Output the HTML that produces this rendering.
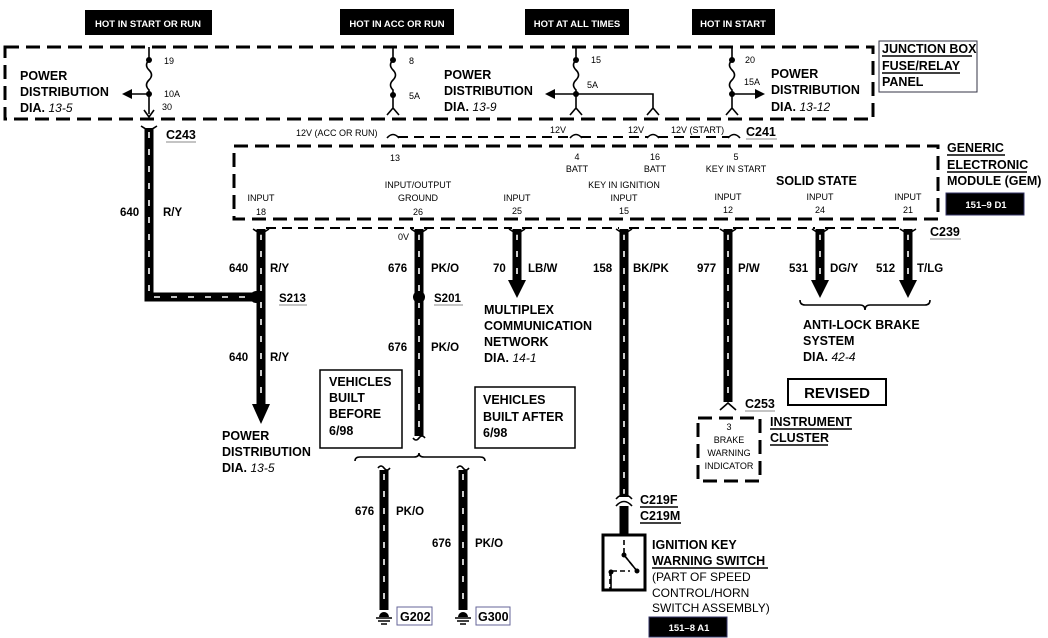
<!DOCTYPE html>
<html><head><meta charset="utf-8"><style>
html,body{margin:0;padding:0;background:#fff;}
svg{display:block;font-family:"Liberation Sans",Arial,sans-serif;}
.b{font-weight:bold;font-size:12.5px;}
.s{font-size:9px;}
.m{font-size:11.5px;font-weight:bold;}
.i{font-style:italic;font-weight:normal;font-size:12px;}
.w{stroke:#000;stroke-width:9;fill:none;}
.wd{stroke:#fff;stroke-width:1.6;stroke-dasharray:6 11;fill:none;}
.dash{stroke:#000;stroke-width:3;stroke-dasharray:14 7;fill:none;}
.thin{stroke:#000;stroke-width:2;stroke-dasharray:10 6;fill:none;}
.ln{stroke:#000;stroke-width:1.6;fill:none;}
</style></head><body>
<svg width="1048" height="638" viewBox="0 0 1048 638" xmlns="http://www.w3.org/2000/svg">
<!-- top labels -->
<rect x="85" y="10" width="127" height="25" fill="#000"/>
<text x="148" y="27" fill="#fff" font-size="9.5" font-weight="bold" text-anchor="middle">HOT IN START OR RUN</text>
<rect x="340" y="9" width="114" height="26" fill="#000"/>
<text x="397" y="27" fill="#fff" font-size="9.5" font-weight="bold" text-anchor="middle">HOT IN ACC OR RUN</text>
<rect x="525" y="9" width="104" height="26" fill="#000"/>
<text x="577" y="27" fill="#fff" font-size="9.5" font-weight="bold" text-anchor="middle">HOT AT ALL TIMES</text>
<rect x="692" y="9" width="83" height="26" fill="#000"/>
<text x="733" y="27" fill="#fff" font-size="9.5" font-weight="bold" text-anchor="middle">HOT IN START</text>

<!-- junction box -->
<rect x="5" y="47" width="868" height="72" class="dash"/>
<rect x="879" y="41" width="98" height="51" fill="none" stroke="#334" stroke-width="1"/>
<text class="b" x="882" y="53">JUNCTION BOX</text>
<text class="b" x="882" y="70">FUSE/RELAY</text>
<text class="b" x="882" y="86">PANEL</text>
<line x1="882" y1="56" x2="972" y2="56" class="ln" stroke-width="0.8"/>
<line x1="882" y1="73" x2="960" y2="73" class="ln" stroke-width="0.8"/>

<!-- fuses -->
<g class="ln">
<path d="M149 47 V60 q-5 5 0 10 q5 5 0 10 q-5 5 0 10 V114 M144 110 l5 7 l5 -7"/>
<path d="M149 94 H124"/>
<path d="M393 47 V60 q-5 5 0 10 q5 5 0 10 q-5 5 0 10 V108 M387 115 l6 -7 l6 7"/>
<path d="M576 47 V60 q-5 5 0 10 q5 5 0 10 q-5 5 0 10 V108 M570 115 l6 -7 l6 7"/>
<path d="M576 94 H548 M576 94 H653 V108 M647 115 l6 -7 l6 7"/>
<path d="M732 47 V60 q-5 5 0 10 q5 5 0 10 q-5 5 0 10 V108 M726 115 l6 -7 l6 7"/>
<path d="M732 94 H756"/>
</g>
<polygon points="122,94 132,89 132,99"/>
<polygon points="545,94 555,89 555,99"/>
<polygon points="765,94 755,89 755,99"/>
<g fill="#000"><circle cx="149" cy="60" r="3"/><circle cx="149" cy="94" r="3"/><circle cx="393" cy="60" r="3"/><circle cx="393" cy="95" r="3"/><circle cx="576" cy="60" r="3"/><circle cx="576" cy="94" r="3"/><circle cx="732" cy="60" r="3"/><circle cx="732" cy="94" r="3"/></g>
<g class="s"><text x="164" y="64">19</text><text x="164" y="97">10A</text><text x="162" y="110">30</text>
<text x="409" y="64">8</text><text x="409" y="99">5A</text>
<text x="591" y="63">15</text><text x="587" y="88">5A</text>
<text x="745" y="63">20</text><text x="744" y="85">15A</text></g>
<text class="b" x="20" y="80">POWER</text><text class="b" x="20" y="96">DISTRIBUTION</text><text class="b" x="20" y="112">DIA. <tspan class="i">13-5</tspan></text>
<text class="b" x="444" y="79">POWER</text><text class="b" x="444" y="95">DISTRIBUTION</text><text class="b" x="444" y="111">DIA. <tspan class="i">13-9</tspan></text>
<text class="b" x="771" y="78">POWER</text><text class="b" x="771" y="94">DISTRIBUTION</text><text class="b" x="771" y="111">DIA. <tspan class="i">13-12</tspan></text>

<!-- connector line C241 -->
<path class="thin" d="M398 137 H571 M581 137 H648 M658 137 H729"/>
<g class="ln" stroke-width="2"><path d="M387 138 q6 -7 12 0 M570 138 q6 -7 12 0 M647 138 q6 -7 12 0 M728 138 q6 -7 12 0"/></g>
<g class="s"><text x="296" y="136">12V (ACC OR RUN)</text><text x="550" y="133">12V</text><text x="628" y="133">12V</text><text x="671" y="133">12V (START)</text></g>
<text class="b" x="746" y="136">C241</text><line x1="746" y1="139" x2="777" y2="139" stroke="#888" stroke-width="1"/>

<!-- GEM -->
<rect x="234" y="146" width="704" height="73" class="dash"/>
<g class="s" text-anchor="middle">
<text x="395" y="161">13</text><text x="577" y="160">4</text><text x="577" y="172">BATT</text><text x="655" y="160">16</text><text x="655" y="172">BATT</text>
<text x="736" y="160">5</text><text x="736" y="172">KEY IN START</text>
<text x="624" y="188">KEY IN IGNITION</text><text x="624" y="201">INPUT</text><text x="624" y="214">15</text>
<text x="261" y="201">INPUT</text><text x="261" y="215">18</text>
<text x="418" y="188">INPUT/OUTPUT</text><text x="418" y="201">GROUND</text><text x="418" y="215">26</text>
<text x="517" y="201">INPUT</text><text x="517" y="214">25</text>
<text x="728" y="200">INPUT</text><text x="728" y="213">12</text>
<text x="820" y="200">INPUT</text><text x="820" y="213">24</text>
<text x="908" y="200">INPUT</text><text x="908" y="213">21</text></g>
<text class="b" x="776" y="185">SOLID STATE</text>
<text class="b" x="947" y="152">GENERIC</text><text class="b" x="947" y="169">ELECTRONIC</text><text class="b" x="947" y="185">MODULE (GEM)</text>
<line x1="947" y1="155" x2="1005" y2="155" class="ln" stroke-width="0.8"/><line x1="947" y1="172" x2="1027" y2="172" class="ln" stroke-width="0.8"/>
<rect x="946" y="193" width="78" height="22" fill="#000" stroke="#336" stroke-width="1"/>
<text x="986" y="208" fill="#fff" font-size="9.5" font-weight="bold" text-anchor="middle">151–9 D1</text>

<path class="thin" d="M266 228 H414 M424 228 H512 M522 228 H619 M629 228 H723 M733 228 H815 M825 228 H903"/>
<text class="b" x="930" y="236">C239</text><line x1="930" y1="239" x2="961" y2="239" stroke="#888" stroke-width="1"/>
<text class="b" x="166" y="139">C243</text><line x1="166" y1="142" x2="196" y2="142" stroke="#888" stroke-width="1"/>

<!-- wires -->
<g>
<path class="w" d="M149 128 V297 H256"/><path class="wd" d="M149 132 V297 H256"/>
<path class="w" d="M261 229 V408"/><path class="wd" d="M261 234 V405"/>
<path class="w" d="M419 229 V436"/><path class="wd" d="M419 234 V432"/>
<path class="w" d="M517 229 V285"/><path class="wd" d="M517 234 V282"/>
<path class="w" d="M624 229 V497 M624 506 V535"/><path class="wd" d="M624 234 V494"/>
<path class="w" d="M728 229 V402"/><path class="wd" d="M728 234 V398"/>
<path class="w" d="M820 229 V285"/><path class="wd" d="M820 234 V282"/>
<path class="w" d="M908 229 V285"/><path class="wd" d="M908 234 V282"/>
<path class="w" d="M384 470 V610"/><path class="wd" d="M384 474 V606"/>
<path class="w" d="M463 470 V610"/><path class="wd" d="M463 474 V606"/>
</g>
<!-- fork ends -->
<g class="ln" stroke-width="2.5">
<path d="M141 126 l8 5 l8 -5 M253 229 l8 5 l8 -5 M411 229 l8 5 l8 -5 M509 229 l8 5 l8 -5 M616 229 l8 5 l8 -5 M720 229 l8 5 l8 -5 M812 229 l8 5 l8 -5 M900 229 l8 5 l8 -5"/>
<path d="M720 410 l8 -7 l8 7 M616 506 q8 -9 16 0 M616 499 q8 -9 16 0"/>
<path d="M413 438 q3 4 6 0 q3 -4 6 0 M378 468 q3 -4 6 0 q3 4 6 0 M457 468 q3 -4 6 0 q3 4 6 0"/>
</g>
<!-- arrowheads -->
<polygon points="252,404 270,404 261,424"/>
<polygon points="508,280 526,280 517,298"/>
<polygon points="811,280 829,280 820,298"/>
<polygon points="899,280 917,280 908,298"/>
<circle cx="256" cy="297" r="6"/><circle cx="419" cy="297" r="6"/>

<!-- labels -->
<g class="m">
<text x="120" y="216">640</text><text x="163" y="216">R/Y</text>
<text x="229" y="272">640</text><text x="270" y="272">R/Y</text>
<text x="229" y="361">640</text><text x="270" y="361">R/Y</text>
<text x="388" y="272">676</text><text x="431" y="272">PK/O</text>
<text x="388" y="351">676</text><text x="431" y="351">PK/O</text>
<text x="493" y="272">70</text><text x="528" y="272">LB/W</text>
<text x="593" y="272">158</text><text x="633" y="272">BK/PK</text>
<text x="697" y="272">977</text><text x="738" y="272">P/W</text>
<text x="789" y="272">531</text><text x="830" y="272">DG/Y</text>
<text x="876" y="272">512</text><text x="917" y="272">T/LG</text>
<text x="355" y="515">676</text><text x="396" y="515">PK/O</text>
<text x="432" y="547">676</text><text x="475" y="547">PK/O</text>
<text x="279" y="302">S213</text><text x="434" y="302">S201</text>
</g>
<line x1="279" y1="305" x2="307" y2="305" stroke="#888"/><line x1="434" y1="305" x2="463" y2="305" stroke="#888"/>
<text class="s" x="398" y="240">0V</text>

<text class="b" x="222" y="440">POWER</text><text class="b" x="222" y="456">DISTRIBUTION</text><text class="b" x="222" y="472">DIA. <tspan class="i">13-5</tspan></text>
<text class="b" x="484" y="314">MULTIPLEX</text><text class="b" x="484" y="330">COMMUNICATION</text><text class="b" x="484" y="346">NETWORK</text><text class="b" x="484" y="362">DIA. <tspan class="i">14-1</tspan></text>
<path class="ln" d="M800 300 q0 5 5 5 H860 q5 0 5 5 q0 -5 5 -5 H925 q5 0 5 -5"/>
<text class="b" x="803" y="329">ANTI-LOCK BRAKE</text><text class="b" x="803" y="345">SYSTEM</text><text class="b" x="803" y="361">DIA. <tspan class="i">42-4</tspan></text>

<rect x="320" y="370" width="82" height="78" fill="none" stroke="#000" stroke-width="1.5"/>
<text class="b" x="329" y="386">VEHICLES</text><text class="b" x="329" y="402">BUILT</text><text class="b" x="329" y="418">BEFORE</text><text class="b" x="329" y="435">6/98</text>
<rect x="475" y="387" width="100" height="61" fill="none" stroke="#000" stroke-width="1.5"/>
<text class="b" x="483" y="404">VEHICLES</text><text class="b" x="483" y="421">BUILT AFTER</text><text class="b" x="483" y="437">6/98</text>
<path class="ln" d="M355 461 q0 -4 5 -4 H414 q5 0 5 -4 q0 4 5 4 H480 q5 0 5 4"/>

<!-- grounds -->
<g class="ln"><path d="M376 618 H392 M378 621 H390 M381 624 H387 M455 618 H471 M457 621 H469 M460 624 H466"/></g>
<path d="M379 617 a5 5 0 0 1 10 0 z M458 617 a5 5 0 0 1 10 0 z"/>
<rect x="397" y="607" width="35" height="18" fill="none" stroke="#669" stroke-width="1"/><text class="b" x="400" y="621">G202</text>
<rect x="476" y="607" width="34" height="18" fill="none" stroke="#669" stroke-width="1"/><text class="b" x="478" y="621">G300</text>

<!-- C253 / cluster -->
<text class="b" x="745" y="408">C253</text><line x1="745" y1="411" x2="775" y2="411" stroke="#888"/>
<rect x="698" y="418" width="62" height="63" class="dash" stroke-dasharray="10 6"/>
<g class="s" text-anchor="middle" font-size="8.5"><text x="729" y="430">3</text><text x="729" y="443">BRAKE</text><text x="729" y="456">WARNING</text><text x="729" y="469">INDICATOR</text></g>
<text class="b" x="770" y="426">INSTRUMENT</text><text class="b" x="770" y="442">CLUSTER</text>
<line x1="770" y1="429" x2="852" y2="429" class="ln" stroke-width="0.8"/><line x1="770" y1="445" x2="828" y2="445" class="ln" stroke-width="0.8"/>
<rect x="788" y="379" width="98" height="26" fill="none" stroke="#000" stroke-width="2"/>
<text x="837" y="398" text-anchor="middle" font-size="15" font-weight="bold">REVISED</text>

<!-- switch -->
<text class="b" x="640" y="504">C219F</text><text class="b" x="640" y="520">C219M</text>
<line x1="640" y1="507" x2="678" y2="507" class="ln" stroke-width="0.8"/><line x1="640" y1="523" x2="681" y2="523" class="ln" stroke-width="0.8"/>
<rect x="603" y="535" width="42" height="55" fill="none" stroke="#000" stroke-width="3"/>
<g class="ln" stroke-width="2"><path d="M624 540 V555 L637 571 M612 571 H630 M610 571 V590" stroke-dasharray="5 3"/><path d="M624 555 L637 571"/><path d="M611 572 V591"/></g>
<circle cx="624" cy="555" r="2.5"/><circle cx="637" cy="571" r="2.5"/><circle cx="611" cy="572" r="2.5"/>
<text class="b" x="652" y="549">IGNITION KEY</text><text class="b" x="652" y="565">WARNING SWITCH</text>
<line x1="652" y1="568" x2="768" y2="568" class="ln" stroke-width="0.8"/>
<text x="652" y="581" font-size="12">(PART OF SPEED</text><text x="652" y="597" font-size="12">CONTROL/HORN</text><text x="652" y="612" font-size="12">SWITCH ASSEMBLY)</text>
<rect x="649" y="617" width="78" height="20" fill="#000" stroke="#336" stroke-width="1"/>
<text x="689" y="631" fill="#fff" font-size="9.5" font-weight="bold" text-anchor="middle">151–8 A1</text>
</svg>
</body></html>
